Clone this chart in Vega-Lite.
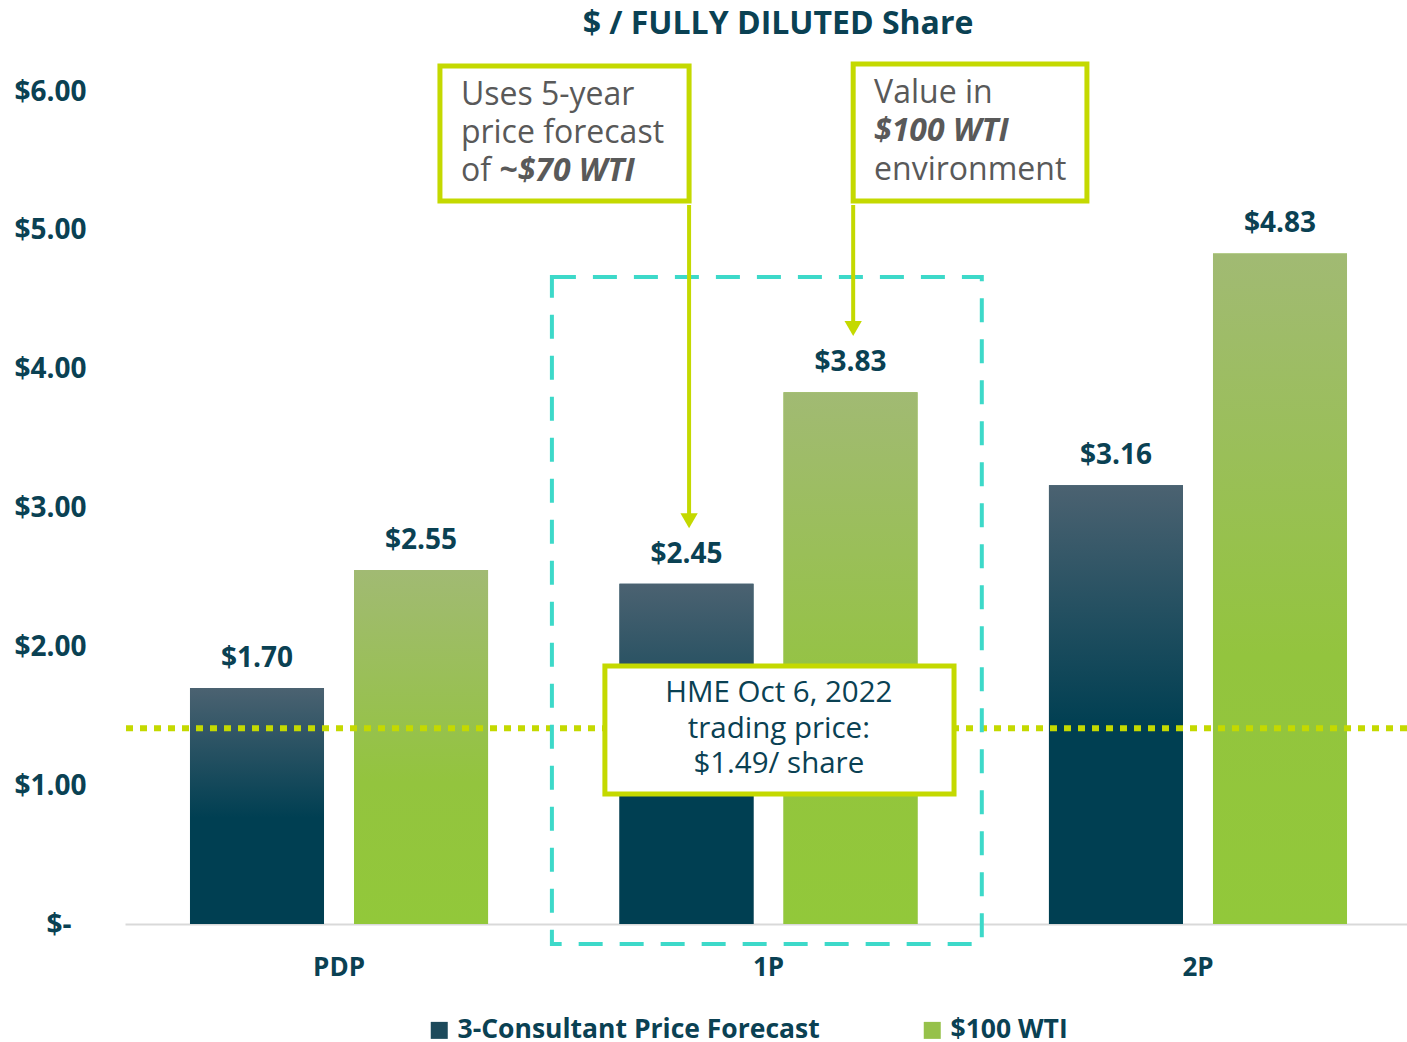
{
  "$schema": "https://vega.github.io/schema/vega-lite/v6.json",
  "width": 1282,
  "height": 833,
  "autosize": {"type": "none"},
  "padding": {"left": 125, "top": 91, "right": 0, "bottom": 118},
  "background": "white",
  "config": {"view": {"stroke": null}, "font": "Open Sans"},
  "title": {"text": "$ / FULLY DILUTED Share", "fontSize": 32, "fontWeight": "bold", "color": "#0a4153", "anchor": "middle", "offset": 20, "dx": 12, "font": "Open Sans"},
  "datasets": {
    "bars": [
      {"cat": "PDP", "series": "3-Consultant Price Forecast", "value": 1.70},
      {"cat": "PDP", "series": "$100 WTI", "value": 2.55},
      {"cat": "1P", "series": "3-Consultant Price Forecast", "value": 2.45},
      {"cat": "1P", "series": "$100 WTI", "value": 3.83},
      {"cat": "2P", "series": "3-Consultant Price Forecast", "value": 3.16},
      {"cat": "2P", "series": "$100 WTI", "value": 4.83}
    ],
    "price": [{"price": 1.41}],
    "boxes": [
      {"kind": "teal", "x": 0.999, "x2": 2.005, "y": 4.66, "y2": -0.144},
      {"kind": "note", "x": 0.737, "x2": 1.320, "y": 6.18, "y2": 5.208},
      {"kind": "note", "x": 1.704, "x2": 2.251, "y": 6.195, "y2": 5.208},
      {"kind": "hme", "x": 1.123, "x2": 1.940, "y": 1.858, "y2": 0.936}
    ],
    "notes": [
      {"style": "plain", "text": "Uses 5-year", "x": 0.786, "y": 5.971},
      {"style": "plain", "text": "price forecast", "x": 0.786, "y": 5.698},
      {"style": "plain", "text": "of", "x": 0.786, "y": 5.424},
      {"style": "plain", "text": "Value in", "x": 1.753, "y": 5.986},
      {"style": "plain", "text": "environment", "x": 1.753, "y": 5.431},
      {"style": "bolditalic", "text": "~$70 WTI", "x": 0.876, "y": 5.424},
      {"style": "bolditalic", "text": "$100 WTI", "x": 1.753, "y": 5.712},
      {"style": "hme", "text": "HME Oct 6, 2022", "x": 1.530, "y": 1.664},
      {"style": "hme", "text": "trading price:", "x": 1.530, "y": 1.405},
      {"style": "hme", "text": "$1.49/ share", "x": 1.530, "y": 1.152}
    ],
    "arrows": [
      {"x": 1.320, "y": 5.179, "tip": 2.905},
      {"x": 1.704, "y": 5.179, "tip": 4.290}
    ]
  },
  "layer": [
    {
      "layer": [
        {
          "data": {"name": "bars"},
          "mark": {"type": "bar"},
          "encoding": {
            "x": {"field": "cat", "type": "nominal", "sort": ["PDP", "1P", "2P"],
              "scale": {"paddingInner": 0.306, "paddingOuter": 0.1455, "align": 0.52},
              "axis": {"title": null, "labelAngle": 0, "labelFontSize": 26, "labelFontWeight": "bold", "labelColor": "#0a4153", "labelPadding": 30, "ticks": false, "domainColor": "#d9d9d9", "domainWidth": 2, "labelFont": "Open Sans"}},
            "xOffset": {"field": "series", "type": "nominal", "sort": ["3-Consultant Price Forecast", "$100 WTI"],
              "scale": {"domain": ["3-Consultant Price Forecast", "$100 WTI"], "paddingInner": 0.183, "paddingOuter": 0}},
            "y": {"field": "value", "type": "quantitative",
              "scale": {"domain": [0, 6], "nice": false},
              "axis": {"title": null, "values": [0, 1, 2, 3, 4, 5, 6], "grid": false, "domain": false, "ticks": false,
                "labelAlign": "left", "labelOffset": 1,
                "labelPadding": {"condition": {"test": "datum.value === 0", "value": 79}, "value": 111},
                "labelFontSize": 28, "labelFontWeight": "bold", "labelColor": "#0a4153", "labelFont": "Open Sans",
                "labelExpr": "datum.value === 0 ? '$-' : '$' + format(datum.value, '.2f')"}},
            "color": {"field": "series", "type": "nominal",
              "scale": {"domain": ["3-Consultant Price Forecast", "$100 WTI"], "range": ["#1d4a5b", "#96c14a"]},
              "legend": {"title": null, "orient": "none", "legendX": 301, "legendY": 926, "direction": "horizontal",
                "symbolType": "square", "symbolSize": 289, "symbolStrokeWidth": 0, "labelFontSize": 26.5, "labelFontWeight": "bold",
                "labelColor": "#0a4153", "labelFont": "Open Sans", "labelLimit": 600, "columnPadding": 99, "labelOffset": 5}}
          }
        },
        {
          "data": {"name": "bars"},
          "transform": [{"filter": "datum.series === '3-Consultant Price Forecast'"}],
          "mark": {"type": "bar", "color": {"gradient": "linear", "x1": 0, "y1": 0, "x2": 0, "y2": 1,
            "stops": [{"offset": 0, "color": "#4b6271"}, {"offset": 0.55, "color": "#003f52"}, {"offset": 1, "color": "#003f52"}]}},
          "encoding": {
            "x": {"field": "cat", "type": "nominal", "sort": ["PDP", "1P", "2P"]},
            "xOffset": {"field": "series", "type": "nominal", "sort": ["3-Consultant Price Forecast", "$100 WTI"]},
            "y": {"field": "value", "type": "quantitative"}
          }
        },
        {
          "data": {"name": "bars"},
          "transform": [{"filter": "datum.series === '$100 WTI'"}],
          "mark": {"type": "bar", "color": {"gradient": "linear", "x1": 0, "y1": 0, "x2": 0, "y2": 1,
            "stops": [{"offset": 0, "color": "#a1ba73"}, {"offset": 0.6, "color": "#93c43e"}, {"offset": 1, "color": "#92c83a"}]}},
          "encoding": {
            "x": {"field": "cat", "type": "nominal", "sort": ["PDP", "1P", "2P"]},
            "xOffset": {"field": "series", "type": "nominal", "sort": ["3-Consultant Price Forecast", "$100 WTI"]},
            "y": {"field": "value", "type": "quantitative"}
          }
        },
        {
          "data": {"name": "bars"},
          "mark": {"type": "text", "baseline": "middle", "dy": -29, "fontSize": 28, "fontWeight": "bold", "color": "#0a4153", "font": "Open Sans"},
          "encoding": {
            "x": {"field": "cat", "type": "nominal", "sort": ["PDP", "1P", "2P"]},
            "xOffset": {"field": "series", "type": "nominal", "sort": ["3-Consultant Price Forecast", "$100 WTI"]},
            "y": {"field": "value", "type": "quantitative"},
            "text": {"field": "value", "type": "quantitative", "format": "$.2f"}
          }
        },
        {
          "data": {"name": "price"},
          "mark": {"type": "rule", "color": "#c4d900", "strokeWidth": 6, "strokeDash": [7, 7]},
          "encoding": {"y": {"field": "price", "type": "quantitative"}}
        }
      ]
    },
    {
      "layer": [
        {
          "data": {"name": "boxes"},
          "transform": [{"filter": "datum.kind === 'teal'"}],
          "mark": {"type": "rect", "fill": null, "fillOpacity": 0, "stroke": "#3dd9c9", "strokeWidth": 4, "strokeDash": [24, 17]},
          "encoding": {
            "x": {"field": "x", "type": "quantitative", "scale": {"domain": [0, 3], "nice": false, "zero": false}, "axis": null},
            "x2": {"field": "x2"},
            "y": {"field": "y", "type": "quantitative", "scale": {"domain": [0, 6], "nice": false}, "axis": null},
            "y2": {"field": "y2"}
          }
        },
        {
          "data": {"name": "boxes"},
          "transform": [{"filter": "datum.kind !== 'teal'"}],
          "mark": {"type": "rect", "fill": "white", "stroke": "#c4d900", "strokeWidth": 5},
          "encoding": {
            "x": {"field": "x", "type": "quantitative", "scale": {"domain": [0, 3], "nice": false, "zero": false}, "axis": null},
            "x2": {"field": "x2"},
            "y": {"field": "y", "type": "quantitative", "scale": {"domain": [0, 6], "nice": false}, "axis": null},
            "y2": {"field": "y2"}
          }
        },
        {
          "data": {"name": "notes"},
          "transform": [{"filter": "datum.style === 'plain'"}],
          "mark": {"type": "text", "align": "left", "baseline": "middle", "fontSize": 32, "color": "#595959", "font": "Open Sans"},
          "encoding": {
            "x": {"field": "x", "type": "quantitative", "scale": {"domain": [0, 3], "nice": false, "zero": false}, "axis": null},
            "y": {"field": "y", "type": "quantitative", "scale": {"domain": [0, 6], "nice": false}, "axis": null},
            "text": {"field": "text"}
          }
        },
        {
          "data": {"name": "notes"},
          "transform": [{"filter": "datum.style === 'bolditalic'"}],
          "mark": {"type": "text", "align": "left", "baseline": "middle", "fontSize": 32, "fontWeight": "bold", "fontStyle": "italic", "color": "#595959", "font": "Open Sans"},
          "encoding": {
            "x": {"field": "x", "type": "quantitative", "scale": {"domain": [0, 3], "nice": false, "zero": false}, "axis": null},
            "y": {"field": "y", "type": "quantitative", "scale": {"domain": [0, 6], "nice": false}, "axis": null},
            "text": {"field": "text"}
          }
        },
        {
          "data": {"name": "notes"},
          "transform": [{"filter": "datum.style === 'hme'"}],
          "mark": {"type": "text", "align": "center", "baseline": "middle", "fontSize": 29.5, "color": "#0a4153", "font": "Open Sans"},
          "encoding": {
            "x": {"field": "x", "type": "quantitative", "scale": {"domain": [0, 3], "nice": false, "zero": false}, "axis": null},
            "y": {"field": "y", "type": "quantitative", "scale": {"domain": [0, 6], "nice": false}, "axis": null},
            "text": {"field": "text"}
          }
        },
        {
          "data": {"name": "arrows"},
          "mark": {"type": "rule", "color": "#c4d900", "strokeWidth": 4},
          "encoding": {
            "x": {"field": "x", "type": "quantitative", "scale": {"domain": [0, 3], "nice": false, "zero": false}, "axis": null},
            "y": {"field": "y", "type": "quantitative", "scale": {"domain": [0, 6], "nice": false}, "axis": null},
            "y2": {"field": "tip"}
          }
        },
        {
          "data": {"name": "arrows"},
          "mark": {"type": "point", "shape": "triangle-down", "filled": true, "size": 300, "color": "#c4d900", "opacity": 1},
          "encoding": {
            "x": {"field": "x", "type": "quantitative", "scale": {"domain": [0, 3], "nice": false, "zero": false}, "axis": null},
            "y": {"field": "tip", "type": "quantitative", "scale": {"domain": [0, 6], "nice": false}, "axis": null}
          }
        }
      ]
    }
  ],
  "resolve": {"scale": {"x": "independent", "y": "independent"}}
}
